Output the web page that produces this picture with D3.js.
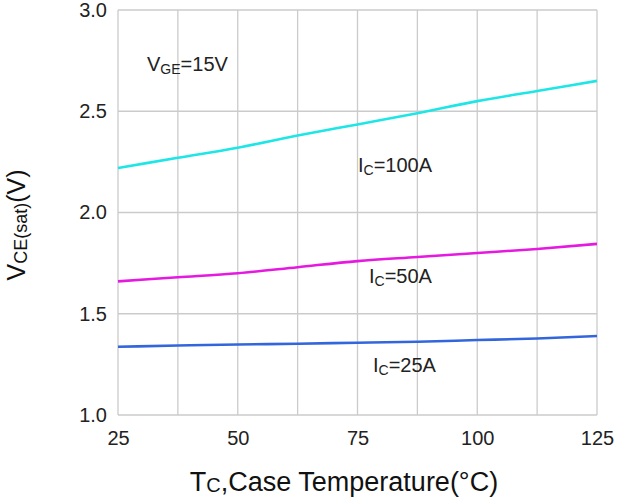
<!DOCTYPE html>
<html>
<head>
<meta charset="utf-8">
<script src="https://cdn.jsdelivr.net/npm/d3@7"></script>
<style>
  html, body { margin: 0; padding: 0; background: #fff; }
  svg { display: block; font-family: Arial, "Liberation Sans", sans-serif; }
</style>
</head>
<body>
<svg id="chart" width="619" height="504"></svg>
<script>
// ---- data ----
const temps = [25, 37.5, 50, 62.5, 75, 87.5, 100, 112.5, 125];
const ic100 = [2.22, 2.27, 2.32, 2.38, 2.435, 2.49, 2.55, 2.60, 2.65];
const ic50  = [1.66, 1.68, 1.70, 1.73, 1.76, 1.78, 1.80, 1.82, 1.845];
const ic25  = [1.337, 1.343, 1.348, 1.352, 1.357, 1.362, 1.37, 1.378, 1.39];
const xTicks = [25, 50, 75, 100, 125];
const xGrid = [25, 37.5, 50, 62.5, 75, 87.5, 100, 112.5, 125];
const yTicks = [1.0, 1.5, 2.0, 2.5, 3.0];
const seriesNames = ["100A", "50A", "25A"];

// ---- layout ----
const svg = d3.select("#chart");
const m = { left: 118, right: 22, top: 10, bottom: 89 };
const W = 619, H = 504;
const x = d3.scaleLinear().domain([25, 125]).range([m.left, W - m.right]);
const y = d3.scaleLinear().domain([1.0, 3.0]).range([H - m.bottom, m.top]);
const FONT = "Arial, 'Liberation Sans', sans-serif";

const grid = svg.append("g");
grid.selectAll("line.v").data(xGrid).join("line")
  .attr("x1", d => x(d)).attr("x2", d => x(d))
  .attr("y1", y(3.0)).attr("y2", y(1.0))
  .attr("stroke", "#cbcbcb").attr("stroke-width", 1.3);
grid.selectAll("line.h").data(yTicks).join("line")
  .attr("x1", x(25)).attr("x2", x(125))
  .attr("y1", d => y(d)).attr("y2", d => y(d))
  .attr("stroke", "#cbcbcb").attr("stroke-width", 1.3);

// axes via d3
const xAxis = d3.axisBottom(x).tickValues(xTicks).tickSize(0).tickPadding(16).tickFormat(d3.format("d"));
const gx = svg.append("g").attr("transform", `translate(0,${y(1.0)})`).call(xAxis);
gx.select(".domain").remove();
gx.selectAll("text").attr("font-size", 20).attr("fill", "#222").attr("font-family", FONT);

const yAxis = d3.axisLeft(y).tickValues(yTicks).tickSize(0).tickPadding(11).tickFormat(d3.format(".1f"));
const gy = svg.append("g").attr("transform", `translate(${x(25)},0)`).call(yAxis);
gy.select(".domain").remove();
gy.selectAll("text").attr("font-size", 20).attr("fill", "#222").attr("font-family", FONT);

// curves
const line = d3.line().x((d, i) => x(temps[i])).y(d => y(d)).curve(d3.curveMonotoneX);
const series = [
  { name: seriesNames[0], values: ic100, color: "#1ee6e6" },
  { name: seriesNames[1], values: ic50, color: "#e619e0" },
  { name: seriesNames[2], values: ic25, color: "#3366dd" }
];
svg.append("g").selectAll("path").data(series).join("path")
  .attr("d", d => line(d.values))
  .attr("fill", "none").attr("stroke", d => d.color).attr("stroke-width", 2.6);

// annotations
function sublabel(xp, yp, main, sub, rest, size) {
  const t = svg.append("text").attr("x", xp).attr("y", yp)
    .attr("font-size", size).attr("fill", "#222");
  t.append("tspan").text(main);
  t.append("tspan").attr("font-size", size * 0.7).attr("dy", 3).text(sub);
  t.append("tspan").attr("dy", -3).text(rest);
  return t;
}
sublabel(147, 71, "V", "GE", "=15V", 20);
sublabel(358, 172, "I", "C", "=100A", 20);
sublabel(369, 283, "I", "C", "=50A", 20);
sublabel(373, 372, "I", "C", "=25A", 20);

// axis titles
const xt = svg.append("text").attr("x", 344).attr("y", 491).attr("text-anchor", "middle")
  .attr("font-size", 27).attr("fill", "#111");
xt.append("tspan").text("T");
xt.append("tspan").attr("font-size", 20).attr("dy", 1).text("C");
xt.append("tspan").attr("dy", -1).text(",Case Temperature(°C)");

const yt = svg.append("text").attr("transform", "translate(25,225) rotate(-90)")
  .attr("text-anchor", "middle").attr("font-size", 25).attr("fill", "#111");
yt.append("tspan").text("V");
yt.append("tspan").attr("font-size", 18).attr("dy", 2).text("CE(sat)");
yt.append("tspan").attr("dy", -2).text("(V)");
</script>
</body>
</html>
